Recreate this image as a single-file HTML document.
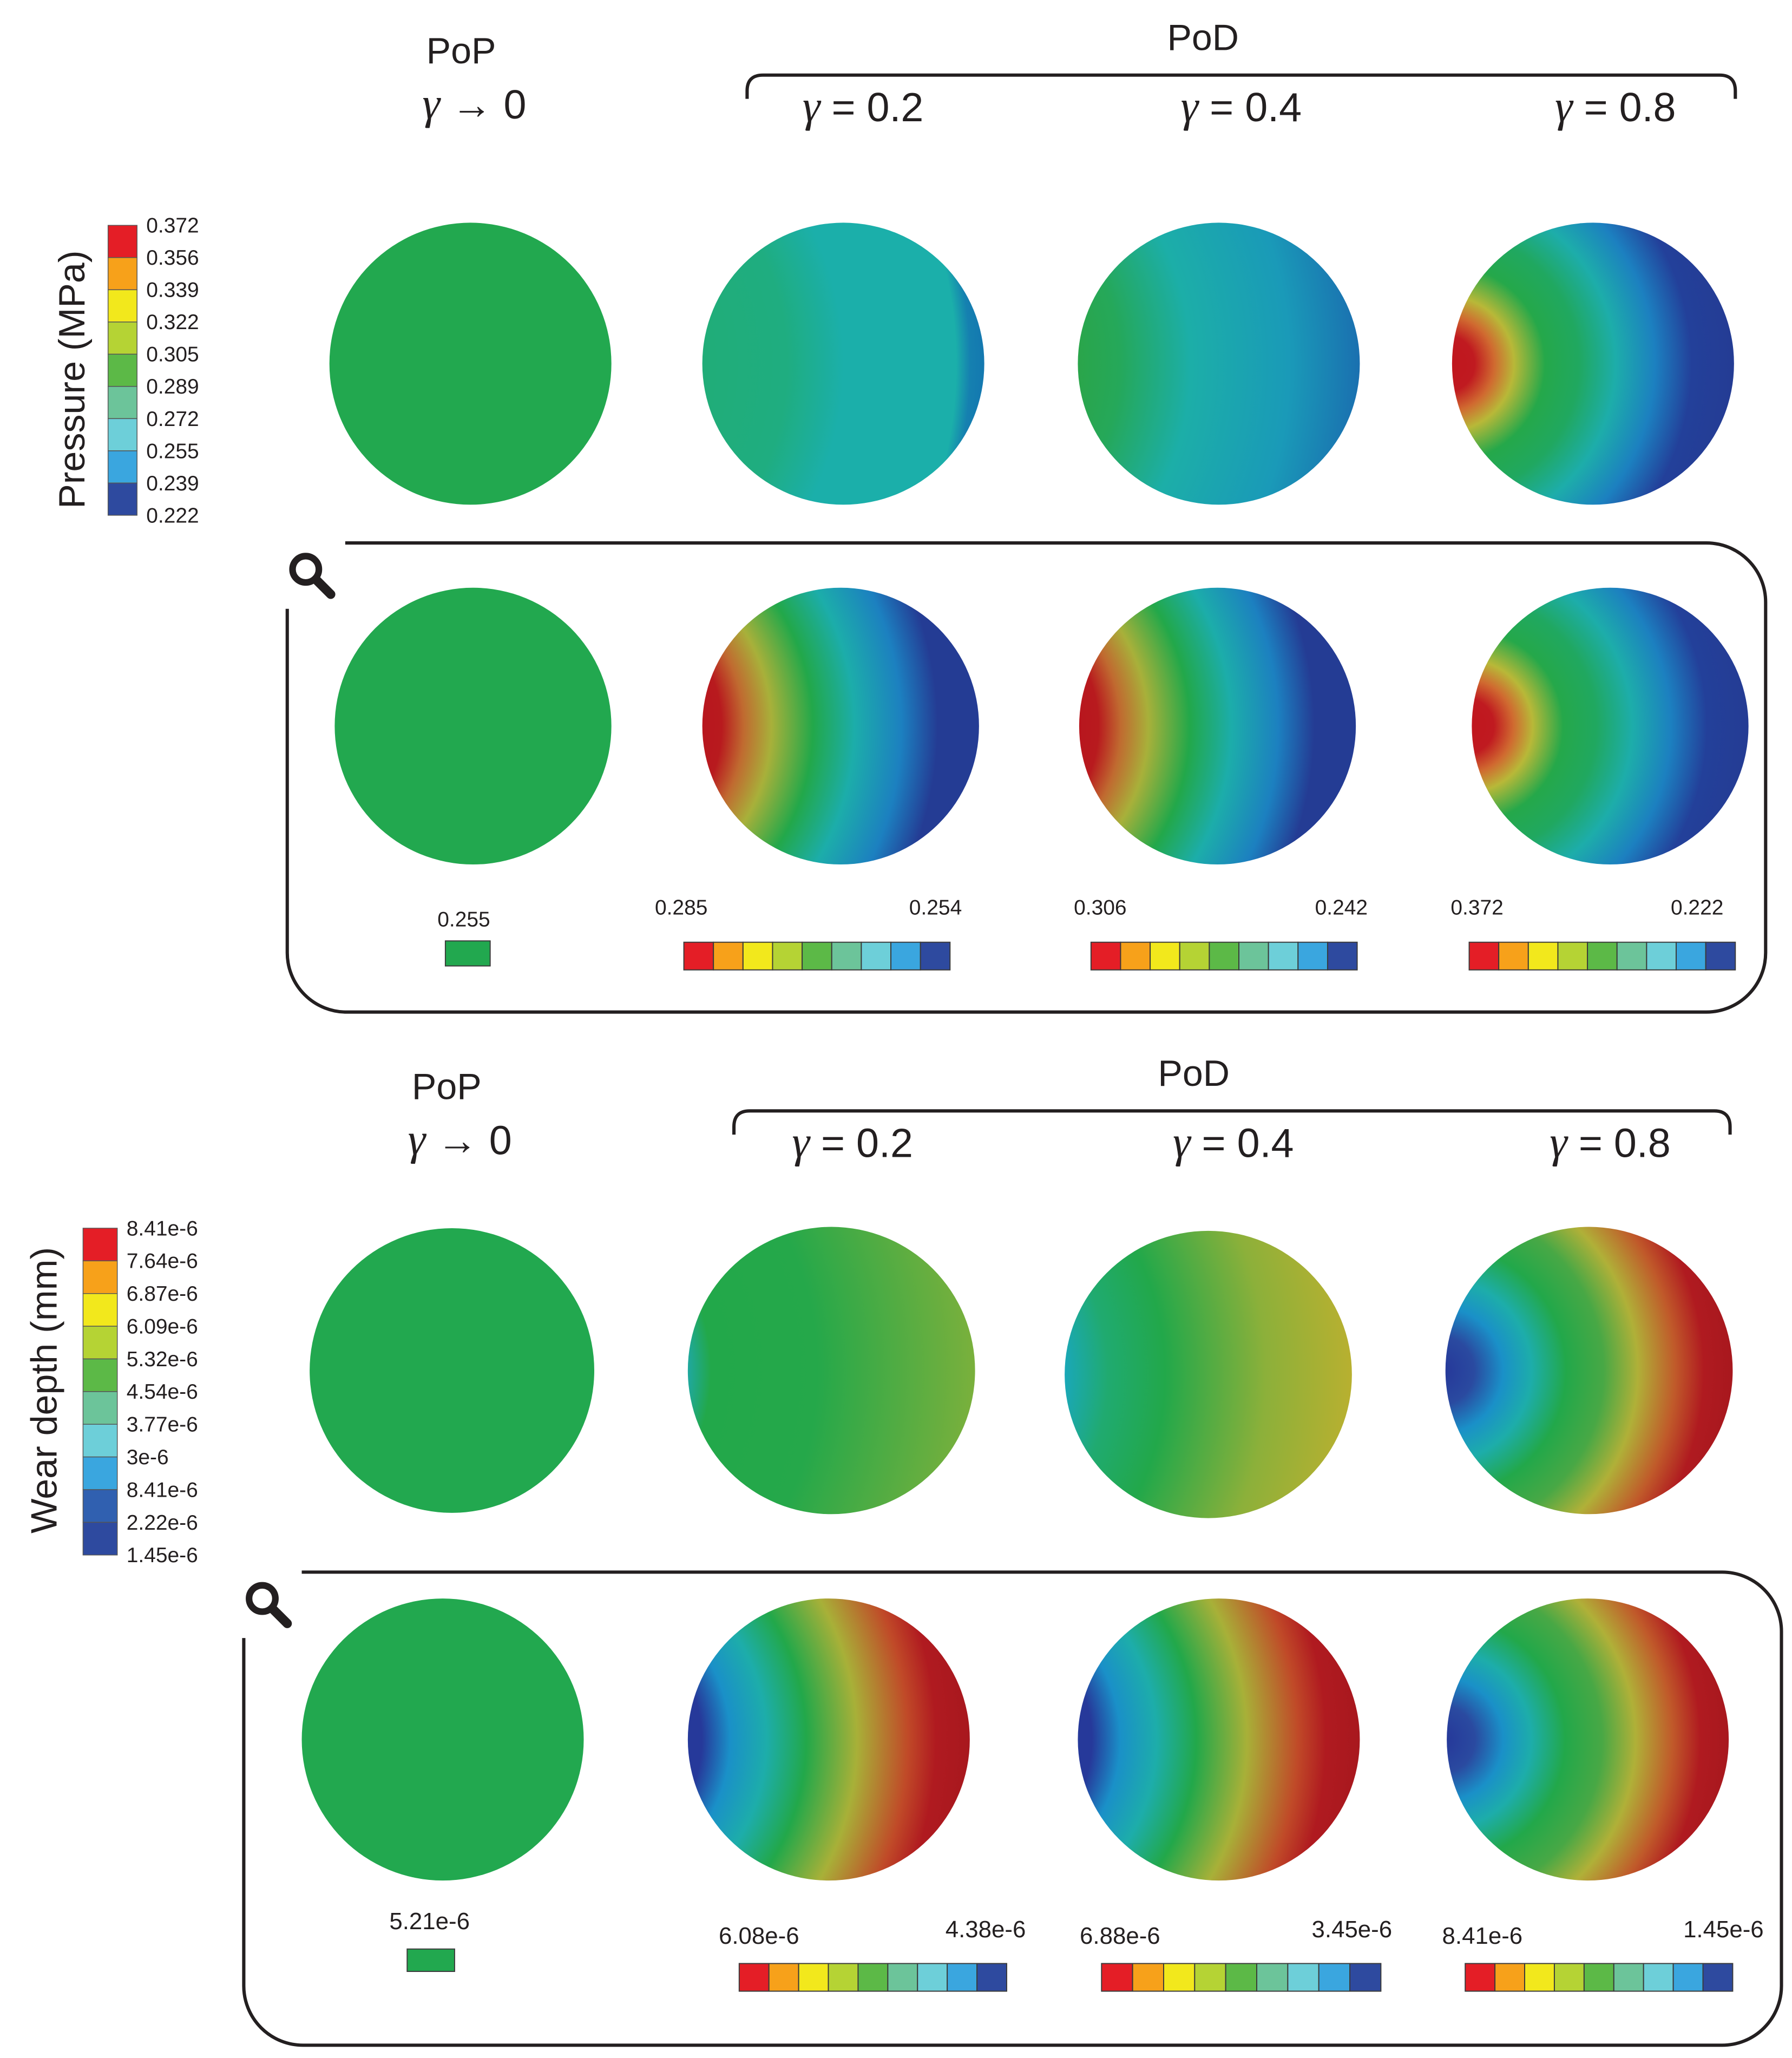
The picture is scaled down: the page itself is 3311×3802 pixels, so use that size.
<!DOCTYPE html>
<html><head><meta charset="utf-8"><style>
html,body{margin:0;padding:0;background:#fff;}
svg{display:block;}
text{font-family:"Liberation Sans",sans-serif;fill:#231f20;}
</style></head><body>
<svg id="fig" xmlns="http://www.w3.org/2000/svg" width="3311" height="3802" viewBox="0 0 1360 1561.7">
<defs id="defs"></defs>
<g id="root"></g>
</svg>
<script>
const palette=["#e41e26","#f7a11a","#f2e81c","#b5d334","#5cb947","#6cc49a","#6dcfd9","#3aa6df","#2e4a9f"];
const wearPalette=["#e41e26","#f7a11a","#f2e81c","#b5d334","#5cb947","#6cc49a","#6dcfd9","#3aa6df","#3060b0","#2e4a9f"];
const pressureTicks=["0.372","0.356","0.339","0.322","0.305","0.289","0.272","0.255","0.239","0.222"];
const wearTicks=["8.41e-6","7.64e-6","6.87e-6","6.09e-6","5.32e-6","4.54e-6","3.77e-6","3e-6","8.41e-6","2.22e-6","1.45e-6"];
const gammaLabels=["0.2","0.4","0.8"];
const pZoomMax=["0.255","0.285","0.306","0.372"];
const pZoomMin=["","0.254","0.242","0.222"];
const wZoomMax=["5.21e-6","6.08e-6","6.88e-6","8.41e-6"];
const wZoomMin=["","4.38e-6","3.45e-6","1.45e-6"];
// gradient definitions: [cx, stops [x-position across circle, color]]
const G={
 uni:null,
 p2:[-0.6,[[0,"#20ad78"],[0.3,"#1fad80"],[0.5,"#1bafaa"],[0.9,"#1bafaa"],[0.95,"#1580b0"],[1,"#1478b0"]]],
 p3:[-0.6,[[0,"#2aa54a"],[0.15,"#25a85a"],[0.4,"#1caea8"],[0.75,"#1a9ab8"],[1,"#1a70b0"]]],
 p4:[-0.02,[[0,"#c0161e"],[0.08,"#c01a20"],[0.15,"#d06a30"],[0.22,"#b8b838"],[0.33,"#25a84a"],[0.45,"#20a860"],[0.58,"#1dadaa"],[0.72,"#1c80c0"],[0.85,"#23409a"],[1,"#243c94"]]],
 pz:[-0.4,[[0,"#b8161e"],[0.07,"#b81a1e"],[0.15,"#c06a30"],[0.25,"#a8b03a"],[0.4,"#22a84a"],[0.55,"#1cadaa"],[0.72,"#1c80c0"],[0.85,"#243c94"],[1,"#243c94"]]],
 w2:[-0.6,[[0,"#1fa8a0"],[0.08,"#22a84a"],[0.45,"#25a84a"],[1,"#7ab03c"]]],
 w3:[-0.6,[[0,"#1aa8b8"],[0.15,"#20aa70"],[0.35,"#22a84a"],[0.7,"#8cb03a"],[1,"#b8b030"]]],
 w4:[-0.02,[[0,"#26399a"],[0.1,"#2a4aa0"],[0.2,"#1a90c8"],[0.3,"#1dadaa"],[0.42,"#22a84a"],[0.55,"#48a845"],[0.67,"#b0b038"],[0.8,"#c05a2a"],[0.9,"#b01a20"],[1,"#a8181e"]]],
 wz:[-0.4,[[0,"#26399a"],[0.05,"#26399a"],[0.15,"#1a90c8"],[0.28,"#1dadaa"],[0.42,"#22a84a"],[0.6,"#a8b038"],[0.78,"#c04a28"],[0.88,"#b01a20"],[1,"#a8181e"]]]
};
const NS="http://www.w3.org/2000/svg";
const root=document.getElementById('root'),defs=document.getElementById('defs');
function el(tag,attrs,parent){const e=document.createElementNS(NS,tag);for(const k in attrs)e.setAttribute(k,attrs[k]);(parent||root).appendChild(e);return e;}
function txt(x,y,s,size,anchor,name,extra){const t=el('text',Object.assign({x:x,y:y,'font-size':size,'text-anchor':anchor||'middle'},extra||{}));t.textContent=s;


return t;}
let gid=0;
function disc(cx,cy,r,key,name){let fill="#22a84f";
 if(G[key]){const id='g'+(gid++);const c0=G[key][0];const R=1.02-c0;
  const g=el('radialGradient',{id:id,cx:c0,cy:0.5,r:R,fx:c0,fy:0.5},defs);
  G[key][1].forEach(s=>el('stop',{offset:Math.max(0,Math.min(1,(s[0]-c0)/R)),'stop-color':s[1]},g));fill='url(#'+id+')';}
 const c=el('circle',{cx:cx,cy:cy,r:r,fill:fill});
 
 }
function gammaText(x,y,val,name){const t=el('text',{x:x,y:y,'font-size':31,'text-anchor':'middle'});
 
 
 const a=el('tspan',{'font-style':'italic','font-family':'"Liberation Serif",serif','font-size':34},t);a.textContent='γ';
 const b=el('tspan',{},t);b.textContent=val;return t;}
function header(y0,popx,podx,gx,bx1,bx2,by){
 txt(popx,y0+48,"PoP",28,'middle','pop-title');
 gammaText(popx+10,y0+90," → 0",'pop-gamma');
 txt(podx,y0+38,"PoD",28,'middle','pod-title');
 gammaLabels.forEach((g,i)=>gammaText(gx[i],y0+92," = "+g,'gamma-label-'+i));
 const p=el('path',{d:`M${bx1},${by+18} V${by+12} Q${bx1},${by} ${bx1+12},${by} H${bx2-12} Q${bx2},${by} ${bx2},${by+12} V${by+18}`,fill:'none',stroke:'#231f20','stroke-width':2.5});
 
 }
function colorbar(x,y,w,h,cols,name){const g=el('g',{});
 const bw=w/cols.length;cols.forEach((c,i)=>el('rect',{x:x+i*bw,y:y,width:bw,height:h,fill:c,stroke:'#3a3a3a','stroke-width':0.8},g));}
function vbar(x,y,w,h,cols,ticks,name,fs){const g=el('g',{});
 const bh=h/cols.length;cols.forEach((c,i)=>el('rect',{x:x,y:y+i*bh,width:w,height:bh,fill:c,stroke:'#555','stroke-width':0.6},g));
 const step=h/(ticks.length-1);ticks.forEach((t,i)=>txt(x+w+7,y+i*step+5.5,t,fs,'start','legend-tick-'+i));}
function zoomBox(x1,y1,x2,y2,name){const r=45;
 const p=el('path',{d:`M${x1+44},${y1} H${x2-r} A${r},${r} 0 0 1 ${x2},${y1+r} V${y2-r} A${r},${r} 0 0 1 ${x2-r},${y2} H${x1+r} A${r},${r} 0 0 1 ${x1},${y2-r} V${y1+50}`,fill:'none',stroke:'#231f20','stroke-width':2.5});
 
 const g=el('g',{});
 el('circle',{cx:x1+14,cy:y1+20,r:10,fill:'none',stroke:'#231f20','stroke-width':5},g);
 el('line',{x1:x1+22,y1:y1+28,x2:x1+33,y2:y1+39,stroke:'#231f20','stroke-width':7,'stroke-linecap':'round'},g);}

// ===== Pressure =====
header(0,350,913,[655,942,1226],567,1317,57);
txt(0,0,"Pressure (MPa)",28,'middle','pressure-axis-title',{transform:'translate(64,288) rotate(-90)'});
vbar(82,171,22,220,palette,pressureTicks,'pressure-legend',16);
disc(357,276,107,'uni','pressure-pop');disc(640,276,107,'p2','pressure-g02');disc(925,276,107,'p3','pressure-g04');disc(1209,276,107,'p4','pressure-g08');
zoomBox(218,412,1340,768,'pressure-zoom-box');
disc(359,551,105,'uni','pressure-zoom-pop');disc(638,551,105,'pz','pressure-zoom-g02');disc(924,551,105,'pz','pressure-zoom-g04');disc(1222,551,105,'p4','pressure-zoom-g08');
txt(352,703,pZoomMax[0],16,'middle','pressure-zoom-pop-value');
colorbar(338,714,34,19,["#22a84f"],'pressure-zoom-pop-bar');
const pzx=[[517,710,519],[835,1018,828],[1121,1288,1115]];
pzx.forEach((a,i)=>{txt(a[0],694,pZoomMax[i+1],16,'middle','pressure-zoom-max-'+i);txt(a[1],694,pZoomMin[i+1],16,'middle','pressure-zoom-min-'+i);colorbar(a[2],715,202,21,palette,'pressure-zoom-bar-'+i);});

// ===== Wear =====
header(786,339,906,[647,936,1222],557,1313,843);
txt(0,0,"Wear depth (mm)",28,'middle','wear-axis-title',{transform:'translate(43,1055) rotate(-90)'});
vbar(63,932,26,248,wearPalette,wearTicks,'wear-legend',16);
disc(343,1040,108,'uni','wear-pop');disc(631,1040,109,'w2','wear-g02');disc(917,1043,109,'w3','wear-g04');disc(1206,1040,109,'w4','wear-g08');
zoomBox(185,1193,1352,1552,'wear-zoom-box');
disc(336,1320,107,'uni','wear-zoom-pop');disc(629,1320,107,'wz','wear-zoom-g02');disc(925,1320,107,'wz','wear-zoom-g04');disc(1205,1320,107,'w4','wear-zoom-g08');
txt(326,1464,wZoomMax[0],18,'middle','wear-zoom-pop-value');
colorbar(309,1479,36,17,["#22a84f"],'wear-zoom-pop-bar');
const wzx=[[576,748,561],[850,1026,836],[1125,1308,1112]];
wzx.forEach((a,i)=>{txt(a[0],1475,wZoomMax[i+1],18,'middle','wear-zoom-max-'+i);txt(a[1],1470,wZoomMin[i+1],18,'middle','wear-zoom-min-'+i);colorbar(a[2],1490,a[2]===836?212:203,21,palette,'wear-zoom-bar-'+i);});
</script>
</body></html>
